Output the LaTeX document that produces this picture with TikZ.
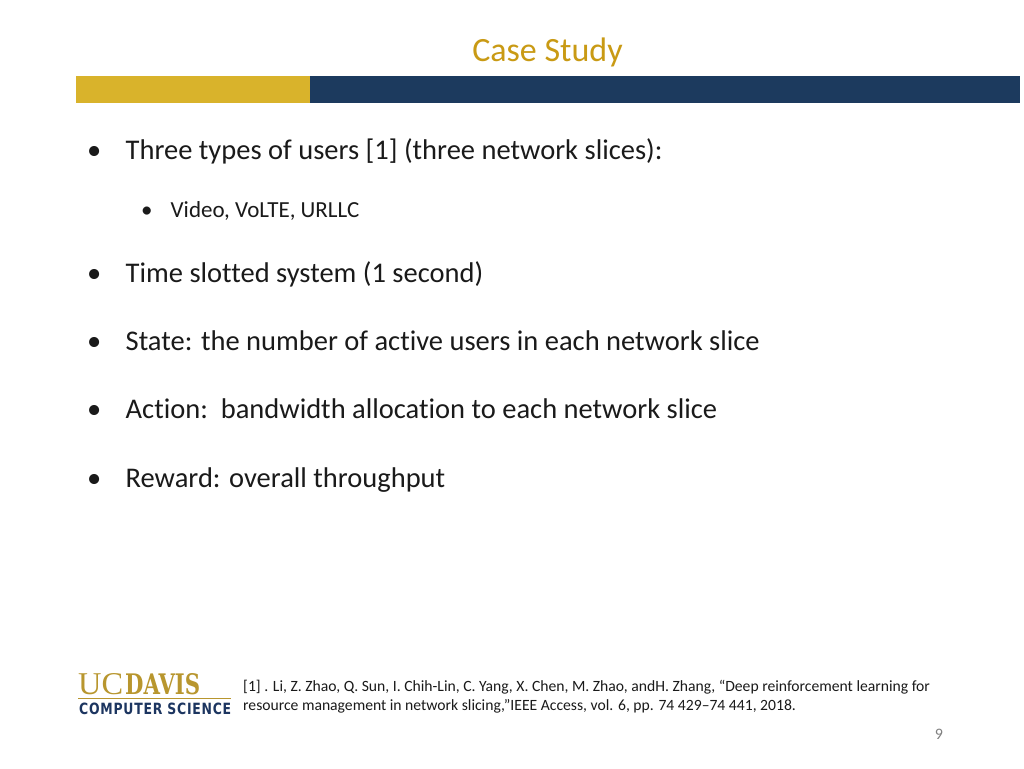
\documentclass[tikz,border=0pt]{standalone}
\usepackage{fontspec}
\usepackage{graphicx}
\setmainfont[Ligatures=NoCommon,Renderer=Basic]{Carlito}
\newfontfamily\logoserif{Liberation Serif}
\newfontfamily\logoslab{DejaVu Serif}
\newfontfamily\logosans[LetterSpace=6]{DejaVu Sans}
\definecolor{gold}{HTML}{D9B32B}
\definecolor{navy}{HTML}{1C3A5E}
\definecolor{titlegold}{HTML}{C99A14}
\definecolor{body}{HTML}{1A1A1A}
\definecolor{logogold}{HTML}{B8962E}
\definecolor{logonavy}{HTML}{1C3560}
\tikzset{
 big/.style={anchor=base west,inner sep=0pt,text=body,font=\fontsize{28.5}{32}\selectfont},
 small/.style={anchor=base west,inner sep=0pt,text=body,font=\fontsize{23}{26}\selectfont},
 ref/.style={anchor=base west,inner sep=0pt,text=body,font=\fontsize{15.65}{18}\selectfont},
 logotext/.style={anchor=base west,inner sep=0pt},
}
\begin{document}
\begin{tikzpicture}[x=1pt,y=-1pt]
\useasboundingbox (0,0) rectangle (1024,768);
\fill[white] (0,0) rectangle (1024,768);
\fill[gold] (76,76) rectangle (310,103);
\fill[navy] (310,76) rectangle (1020,103);
\node[anchor=base,inner sep=0pt,text=titlegold,font=\fontsize{34}{38}\selectfont] (title) at (547.5,61) {Case Study};
\foreach \n/\y/\t in {a/159/{Three types of users [1] (three network slices):},c/282/{Time slotted system (1 second)},d/350/{State: the number of active users in each network slice},e/418.5/{Action:\ \ bandwidth allocation to each network slice},f/487/{Reward: overall throughput}}{
 \node[big] (b\n) at (87,\y) {•};
 \node[big] (\n) at (125.5,\y) {\t};
}
\node[small] (bb) at (141,217) {•};
\node[small] (b) at (170.5,217) {Video, VoLTE, URLLC};
\node[ref] (r1) at (243,691) {[1] . Li, Z. Zhao, Q. Sun, I. Chih-Lin, C. Yang, X. Chen, M. Zhao, andH. Zhang, “Deep reinforcement learning for};
\node[ref] (r2) at (243,710) {resource management in network slicing,”IEEE Access, vol. 6, pp. 74 429–74 441, 2018.};
\node[anchor=base,inner sep=0pt,text=gray,font=\fontsize{16}{18}\selectfont] (pg) at (939,739) {9};
% logo
\node[logotext,text=logogold] (uc) at (78,694.5) {\resizebox{45pt}{21pt}{\logoserif UC}};
\node[logotext,text=logogold] (davis) at (125,694.5) {\resizebox{75pt}{21pt}{\logoslab\bfseries DAVIS}};
\draw[logogold,line width=0.8pt] (78,698) -- (231,698);
\node[logotext,text=logonavy] (cs) at (79,714.5) {\resizebox{152pt}{11.5pt}{\logosans\bfseries COMPUTER SCIENCE}};
\end{tikzpicture}
\end{document}
